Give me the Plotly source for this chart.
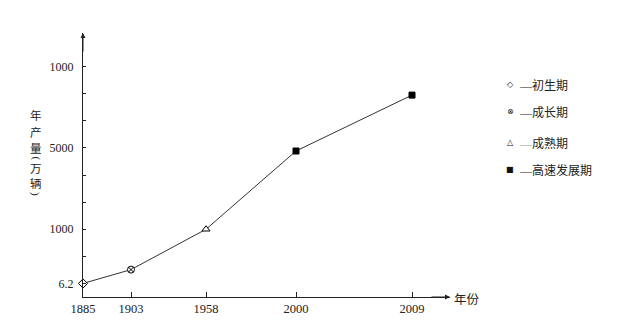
import numpy as np
import plotly.graph_objects as go

# ---------------- data ----------------
years = ["1885", "1903", "1958", "2000", "2009"]
production = [6.2, 260, 1000, 4850, 8250]          # 年产量（万辆）
stage_of_point = ["初生期", "成长期", "成熟期", "高速发展期", "高速发展期"]
y_tick_values = [6.2, 1000, 5000, 10000]
y_tick_labels = ["6.2", "1000", "5000", "1000"]
legend_stages = ["初生期", "成长期", "成熟期", "高速发展期"]
legend_glyphs = ["◇", "⊗", "△", "■"]
x_title = "年份"
y_title_chars = ["年", "产", "量", "(", "万", "辆", ")"]

# ---------------- layout / style ----------------
W, H = 631, 331
PL, PR, PT, PB = 83, 450, 33, 297          # plot box in pixels
year_slots = [0, 48, 123, 213, 329]        # schematic horizontal slots of the years
tick_slots = [0, 2, 5, 8]                  # schematic grid steps of the labelled y ticks
n_steps = 9
INK = "#222222"
SERIF = "Liberation Serif, Times New Roman, serif"
CJK = "Noto Sans CJK SC, sans-serif"

stage_style = {
    "初生期": dict(symbol="diamond", color="white", size=7),
    "成长期": dict(symbol="circle-x", color="white", size=7),
    "成熟期": dict(symbol="triangle-up", color="white", size=7),
    "高速发展期": dict(symbol="square", color="black", size=6),
}

y_pos = np.interp(production, y_tick_values, tick_slots)

def px_x(px):
    return (px - PL) / (PR - PL)

def px_y(py):
    return (PB - py) / (PB - PT)

fig = go.Figure()
fig.add_trace(go.Scatter(
    x=year_slots, y=y_pos, mode="lines+markers",
    line=dict(color="#333333", width=1),
    marker=dict(
        symbol=[stage_style[s]["symbol"] for s in stage_of_point],
        color=[stage_style[s]["color"] for s in stage_of_point],
        size=[stage_style[s]["size"] for s in stage_of_point],
        line=dict(color="black", width=1),
        opacity=1,
    ),
    cliponaxis=False, showlegend=False, hoverinfo="skip",
))

ticktext = [""] * n_steps
for slot, lab in zip(tick_slots, y_tick_labels):
    ticktext[slot] = lab

fig.update_layout(
    width=W, height=H,
    margin=dict(l=PL, r=W - PR, t=PT, b=H - PB, pad=0),
    paper_bgcolor="white", plot_bgcolor="white",
    showlegend=False,
    xaxis=dict(
        range=[0, PR - PL], tickvals=year_slots, ticktext=years,
        ticks="inside", ticklen=5, tickwidth=1, tickcolor=INK,
        showline=True, linecolor=INK, linewidth=1,
        showgrid=False, zeroline=False,
        tickfont=dict(family=SERIF, size=12.5, color=INK),
    ),
    yaxis=dict(
        range=[-0.5, (PB - PT) / 27.1 - 0.5], tickvals=list(range(n_steps)), ticktext=ticktext,
        ticks="inside", ticklen=3, tickwidth=1, tickcolor=INK,
        showline=True, linecolor=INK, linewidth=1,
        showgrid=False, zeroline=False,
        tickfont=dict(family=SERIF, size=12, color=INK),
        ticklabelstandoff=6,
    ),
)

ann = []
# axis arrows
ann.append(dict(xref="paper", yref="paper", x=0, y=1, ax=0, ay=20, text="",
                showarrow=True, arrowhead=2, arrowsize=1, arrowwidth=1, arrowcolor=INK))
ann.append(dict(xref="paper", yref="paper", x=1, y=0, ax=-20, ay=0, text="",
                showarrow=True, arrowhead=2, arrowsize=1, arrowwidth=1, arrowcolor=INK))
# x title
ann.append(dict(xref="paper", yref="paper", x=px_x(452), y=px_y(298), xanchor="left",
                yanchor="middle", text=x_title, showarrow=False,
                font=dict(family=CJK, size=12.5, color=INK)))
# vertical y title (brackets turned to read vertically)
title_rows = [115, 131.5, 148, 158.5, 167.5, 183, 194]
for ch, py in zip(y_title_chars, title_rows):
    is_bracket = ch in "()"
    ann.append(dict(xref="paper", yref="paper", x=px_x(36), y=px_y(py), xanchor="center",
                    yanchor="middle", text=ch, showarrow=False, borderpad=0,
                    textangle=90 if is_bracket else 0,
                    font=dict(family=SERIF if is_bracket else CJK,
                              size=11 if is_bracket else 11.5, color=INK)))
# legend
legend_rows = [84, 112, 142, 169]
for stage, glyph, py in zip(legend_stages, legend_glyphs, legend_rows):
    dash_color = "#999999" if stage == "成熟期" else INK
    ann.append(dict(xref="paper", yref="paper", x=px_x(510), y=px_y(py), xanchor="center",
                    yanchor="middle", text=glyph, showarrow=False,
                    font=dict(family="DejaVu Sans", size=8, color="#111111")))
    ann.append(dict(xref="paper", yref="paper", x=px_x(517), y=px_y(py), xanchor="left",
                    yanchor="middle", showarrow=False,
                    text=(f"<span style='color:{dash_color};font-family:Liberation Serif'>—</span>"
                          f"{stage}"),
                    font=dict(family=CJK, size=12, color=INK)))
fig.update_layout(annotations=ann)

fig.write_html("out.html")
